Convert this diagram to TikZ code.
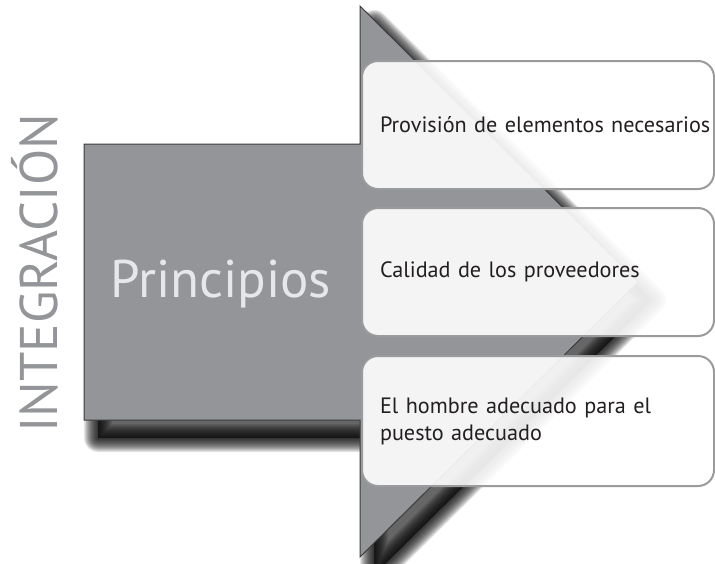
\documentclass[tikz,border=0pt]{standalone}
\usepackage{fontspec}
\setmainfont{PT Sans}
\definecolor{arrowgray}{HTML}{939598}
\definecolor{edgegray}{HTML}{3C3C3E}
\definecolor{boxedge}{HTML}{9A9B9D}
\definecolor{inktext}{HTML}{231F20}
\definecolor{pale}{HTML}{E6E7E8}
\hbadness=10000 \hfuzz=100pt
\tikzset{
  arrowshape/.style={insert path={(84,144) -- (360,144) -- (360,6) -- (638,282) -- (360,557) -- (360,420) -- (84,420) -- cycle}},
  box/.style={draw=boxedge, line width=2pt, rounded corners=16pt, fill=white, fill opacity=0.9, text opacity=1,
    minimum width=352pt, minimum height=128pt, inner xsep=18pt, outer sep=0pt, text width=316pt, align=left,
    text=inktext, font=\fontsize{22.2}{27}\selectfont},
}
\begin{document}
\begin{tikzpicture}[x=1pt,y=-1pt]
\useasboundingbox (0,0) rectangle (715,563);
% soft shadow
\begin{scope}[shift={(14,18)}]
  \fill[black, fill opacity=0.6, arrowshape];
  \foreach \r [evaluate=\r as \w using 2*\r] in {1,...,14} {
    \draw[black, draw opacity=0.1, line width=\w pt, line join=round, arrowshape];
  }
\end{scope}
% arrow
\fill[arrowgray, arrowshape];
\draw[edgegray, line width=1pt, arrowshape];
% boxes
\node[box] (b1) at (538,125) {\mbox{Provisión de elementos necesarios}};
\node[box] (b2) at (538,272) {\mbox{Calidad de los proveedores}};
\node[box, minimum height=130pt] (b3) at (538,421) {\raisebox{-4pt}{\mbox{El hombre adecuado para el}}\\\raisebox{-4pt}{\mbox{puesto adecuado}}};
% labels
\node[anchor=base west, inner sep=0pt, text=pale, font=\fontsize{53}{53}\selectfont] (pr) at (110,297) {Principios};
\node[rotate=90, anchor=base west, inner sep=0pt, text=arrowgray, font=\fontsize{53}{53}\selectfont] (ig) at (57,433) {INTEGRACIÓN};
\end{tikzpicture}
\end{document}
